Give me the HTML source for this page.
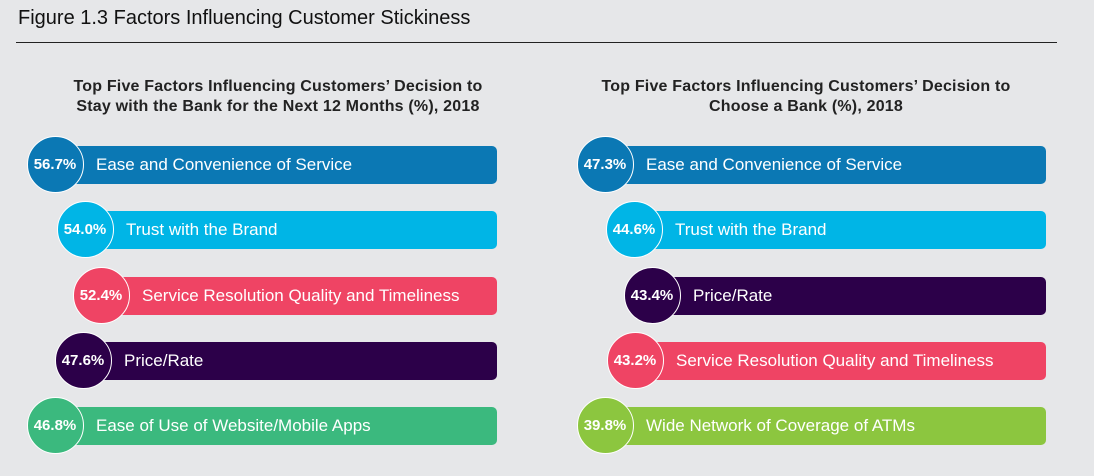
<!DOCTYPE html>
<html><head><meta charset="utf-8"><style>
body{margin:0;width:1094px;height:476px;background:#e6e7e9;font-family:"Liberation Sans",sans-serif;overflow:hidden;position:relative}
.t{position:absolute;left:18px;top:7px;font-size:20px;color:#111}
.ln{position:absolute;left:16px;top:42px;width:1041px;height:1px;background:#222}
.sub{position:absolute;width:520px;text-align:center;font-size:16px;font-weight:bold;color:#222;line-height:20px;top:77px;letter-spacing:0.2px}
.bar{position:absolute;height:38px;border-radius:5px;color:#fff;font-size:17px;line-height:38px}
.cir{position:absolute;width:55px;height:55px;border-radius:50%;border:1.5px solid #fff;color:#fff;font-weight:bold;font-size:15px;line-height:55px;text-align:center;box-sizing:content-box}
</style></head><body>
<div class="t">Figure 1.3 Factors Influencing Customer Stickiness</div>
<div class="ln"></div>
<div class="sub" style="left:18px">Top Five Factors Influencing Customers’ Decision to<br>Stay with the Bank for the Next 12 Months (%), 2018</div>
<div class="sub" style="left:546px">Top Five Factors Influencing Customers’ Decision to<br>Choose a Bank (%), 2018</div>
<div id="root"></div>
<script>
const leftLabels=["Ease and Convenience of Service","Trust with the Brand","Service Resolution Quality and Timeliness","Price/Rate","Ease of Use of Website/Mobile Apps"];
const leftValues=[56.7,54.0,52.4,47.6,46.8];
const rightLabels=["Ease and Convenience of Service","Trust with the Brand","Price/Rate","Service Resolution Quality and Timeliness","Wide Network of Coverage of ATMs"];
const rightValues=[47.3,44.6,43.4,43.2,39.8];
const leftColors=["#0b78b4","#00b5e6","#ef4464","#2c0049","#3bb97e"];
const rightColors=["#0b78b4","#00b5e6","#2c0049","#ef4464","#8cc63f"];
const leftOff=[0,30,46,28,0], rightOff=[0,29,47,30,0];
const rowY=r=>165+r*65.3;
const root=document.getElementById('root');
function panel(labels,values,colors,offs,cx0,right,side){
 labels.forEach((lab,i)=>{
  const cy=rowY(i), cx=cx0+offs[i];
  const b=document.createElement('div');b.className='bar';
  
  
  b.style.cssText=`left:${cx}px;top:${cy-19}px;width:${right-cx}px;background:${colors[i]};`;
  const s=document.createElement('span');s.textContent=lab;s.style.cssText=`position:absolute;left:${41}px;white-space:nowrap`;
  
  
  b.appendChild(s);root.appendChild(b);
  const c=document.createElement('div');c.className='cir';
  
  
  c.style.cssText=`left:${cx-28.5}px;top:${cy-29}px;background:${colors[i]}`;
  c.textContent=values[i].toFixed(1)+'%';root.appendChild(c);
 });
}
panel(leftLabels,leftValues,leftColors,leftOff,55,497,'left');
panel(rightLabels,rightValues,rightColors,rightOff,605,1046,'right');
</script>
</body></html>
